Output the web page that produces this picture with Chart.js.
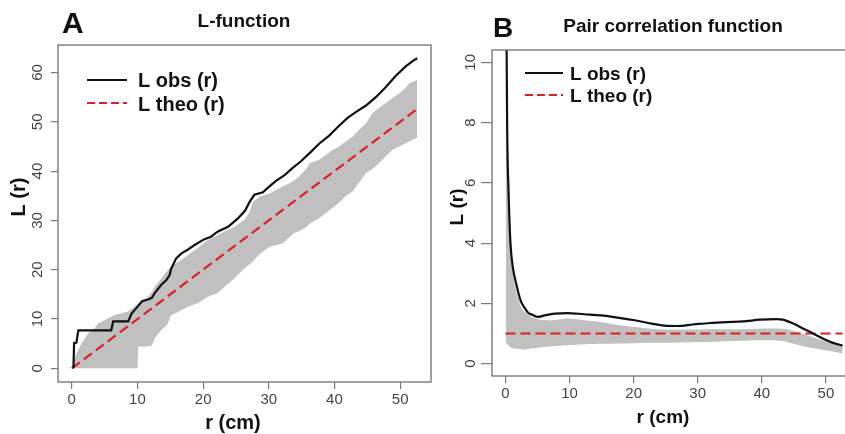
<!DOCTYPE html>
<html>
<head>
<meta charset="utf-8">
<title>L-function and pair correlation function</title>
<script src="https://cdn.jsdelivr.net/npm/chart.js@4.4.1/dist/chart.umd.min.js"></script>
<style>
  html, body { margin: 0; padding: 0; background: #fff; overflow: hidden; }
  #wrap { position: relative; width: 845px; height: 434px; overflow: hidden; }
  #chartA { position: absolute; left: 0; top: 0; }
  #chartB { position: absolute; left: 436px; top: 0; }
</style>
</head>
<body>
<div id="wrap">
  <canvas id="chartA" width="436" height="434"></canvas>
  <canvas id="chartB" width="420" height="434"></canvas>
</div>
<script>
// Tick labels
const xTicks = [0, 10, 20, 30, 40, 50];
const yTicksA = [0, 10, 20, 30, 40, 50, 60];
const yTicksB = [0, 2, 4, 6, 8, 10];

// Panel A - L-function: observed (step-like) curve
const rObsA = [0.25, 0.35, 0.7, 1.0, 6.0, 6.3, 8.6, 9.1, 9.9, 10.7, 11.5, 12.2, 12.6, 13.6, 14.4, 14.9, 15.1, 15.9, 16.7, 17.7,
  18.7, 20.2, 21.2, 22.2, 23.8, 25.3, 26.4, 27.1, 27.8, 29.1, 30.1, 31.1, 32.4, 33.6, 34.9, 36.4, 37.7, 39.2, 40.7, 42.0,
  43.3, 44.8, 46.3, 47.8, 49.3, 50.9, 52.0, 52.6];
const lObsA = [0, 5.1, 5.2, 7.7, 7.7, 9.5, 9.5, 11.1, 12.3, 13.6, 13.9, 14.3, 15.2, 16.9, 17.9, 18.9, 20.1, 22.3, 23.3, 24.1,
  25.0, 26.2, 26.7, 27.7, 28.7, 30.4, 32.0, 33.8, 35.2, 35.7, 36.9, 38.0, 39.2, 40.6, 42.0, 43.9, 45.6, 47.2, 49.2, 50.8,
  52.0, 53.3, 55.0, 57.0, 59.3, 61.3, 62.4, 62.9];

// Panel A - simulation envelope
const rEnvA = [0, 0.5, 1.5, 2.5, 3.5, 4.0, 6.5, 8.6, 10.0, 10.1, 11.6, 12.2, 12.6, 13.4, 14.6, 15.1, 15.9, 16.7, 17.7, 18.7,
  19.2, 20.7, 22.2, 23.3, 24.8, 26.3, 27.0, 27.6, 28.7, 30.2, 32.1, 33.8, 34.6, 35.8, 36.2, 37.7, 39.7, 40.7, 41.7, 42.8,
  43.3, 44.8, 45.8, 46.8, 47.8, 48.8, 49.9, 50.9, 51.4, 52.6];
const loEnvA = [0, 0, 0, 0, 0, 0, 0, 0, 0, 4.4, 4.4, 4.6, 6.0, 7.4, 9.0, 10.8, 11.2, 11.8, 12.5, 13.0,
  13.2, 14.5, 15.2, 16.6, 18.3, 20.3, 21.0, 21.7, 23.3, 24.7, 25.3, 27.4, 27.8, 28.7, 29.3, 30.5, 32.5, 33.6, 34.9, 35.9,
  36.9, 39.6, 40.5, 41.6, 43.0, 44.3, 45.0, 45.7, 46.0, 46.8];
const hiEnvA = [0, 2.4, 5.1, 7.1, 8.1, 9.1, 10.8, 11.5, 13.0, 13.2, 14.5, 15.5, 16.5, 17.8, 19.9, 20.5, 21.3, 22.0, 23.0, 24.0,
  24.4, 26.0, 27.0, 27.8, 28.7, 30.2, 31.5, 33.8, 34.9, 35.5, 36.9, 38.0, 38.9, 40.6, 41.6, 42.3, 44.3, 45.0, 46.0, 47.0,
  47.8, 49.7, 51.8, 52.8, 53.8, 54.8, 55.8, 57.0, 57.8, 58.5];

// Panel A - theoretical line L(r) = r
const rTheoA = [0, 52.6];
const lTheoA = [0, 52.6];

// Panel B - pair correlation function: observed curve
const rObsB = [0.08, 0.26, 0.5, 0.78, 1.15, 1.67, 2.35, 3.0, 3.5, 4.2, 5.05, 6.1, 7.7, 9.7, 12.3, 14.9, 17.5, 20.2, 22.8, 24.8,
  26.7, 29.3, 31.9, 34.5, 37.1, 39.7, 42.3, 43.3, 44.9, 46.5, 48.0, 49.6, 51.1, 52.6];
const gObsB = [14, 8.0, 5.6, 4.0, 3.2, 2.66, 2.1, 1.85, 1.7, 1.62, 1.55, 1.6, 1.66, 1.68, 1.64, 1.6, 1.53, 1.44, 1.33, 1.26,
  1.25, 1.3, 1.35, 1.38, 1.4, 1.46, 1.48, 1.46, 1.33, 1.16, 1.0, 0.83, 0.69, 0.6];

// Panel B - simulation envelope
const rEnvB = [0.05, 0.3, 0.6, 1.0, 1.5, 2.3, 3.0, 4.0, 5.0, 7.1, 9.7, 12.3, 14.9, 17.5, 20.2, 22.8, 24.8, 27.4, 30.0, 32.7,
  35.3, 38.0, 40.5, 43.3, 44.9, 46.5, 48.0, 49.6, 51.1, 52.6];
const hiEnvB = [12, 7.5, 4.8, 3.3, 2.6, 1.95, 1.72, 1.56, 1.48, 1.44, 1.5, 1.44, 1.38, 1.28, 1.22, 1.16, 1.13, 1.13, 1.13, 1.15,
  1.14, 1.15, 1.17, 1.16, 1.09, 0.98, 0.88, 0.77, 0.71, 0.64];
const loEnvB = [0.72, 0.65, 0.58, 0.52, 0.5, 0.48, 0.47, 0.5, 0.53, 0.58, 0.61, 0.64, 0.66, 0.67, 0.68, 0.69, 0.69, 0.7, 0.72, 0.73,
  0.75, 0.77, 0.78, 0.75, 0.66, 0.58, 0.52, 0.45, 0.4, 0.34];

// Panel B - theoretical value g(r) = 1
const rTheoB = [0, 52.6];
const gTheoB = [1, 1];

const FONT = "'Liberation Sans', Arial, Helvetica, sans-serif";
const RED = '#dc2026';
const GREY = '#c0c0c0';
Chart.defaults.font.family = FONT;

function pts(xs, ys) {
  return xs.map((x, i) => ({ x: x, y: ys[i] }));
}

// force ticks to the given values (R style pretty ticks)
function fixTicks(values) {
  return scale => { scale.ticks = values.map(v => ({ value: v })); };
}

// R look: box, rotated y tick labels, axis titles, panel title, letter, legend
function rStyle(cfg) {
  return {
    id: 'rStyle',
    afterDraw(chart) {
      const ctx = chart.ctx;
      const a = chart.chartArea;
      const ys = chart.scales.y;
      ctx.save();

      ctx.strokeStyle = '#7a7a7a';
      ctx.lineWidth = 1.4;
      ctx.strokeRect(a.left, a.top, a.right - a.left, a.bottom - a.top);

      ctx.fillStyle = '#444';
      ctx.font = '15px ' + FONT;
      ctx.textAlign = 'center';
      ctx.textBaseline = 'middle';
      ys.ticks.forEach(t => {
        ctx.save();
        ctx.translate(cfg.yLabelX, ys.getPixelForValue(t.value));
        ctx.rotate(-Math.PI / 2);
        ctx.fillText(String(t.value), 0, 0);
        ctx.restore();
      });

      // axis titles
      ctx.fillStyle = '#111';
      ctx.font = 'bold ' + cfg.axisSize + 'px ' + FONT;
      ctx.fillText('r (cm)', cfg.xTitleX, cfg.xTitleY);
      ctx.save();
      ctx.translate(cfg.yTitleX, cfg.yTitleY);
      ctx.rotate(-Math.PI / 2);
      ctx.fillText('L (r)', 0, 0);
      ctx.restore();

      // panel title and letter
      ctx.textBaseline = 'alphabetic';
      ctx.font = 'bold 19px ' + FONT;
      ctx.fillText(cfg.title, cfg.titleX, cfg.titleY);
      ctx.textAlign = 'left';
      ctx.font = 'bold ' + cfg.letterSize + 'px ' + FONT;
      ctx.fillText(cfg.letter, cfg.letterX, cfg.letterY);

      // legend (first two datasets)
      ctx.font = 'bold ' + cfg.legendSize + 'px ' + FONT;
      cfg.legend.forEach((item, i) => {
        const ds = chart.data.datasets[i];
        ctx.strokeStyle = ds.borderColor;
        ctx.lineWidth = 2;
        ctx.setLineDash(item.dash);
        ctx.beginPath();
        ctx.moveTo(cfg.legX1, item.y);
        ctx.lineTo(cfg.legX2, item.y);
        ctx.stroke();
        ctx.setLineDash([]);
        ctx.fillStyle = '#111';
        ctx.fillText(ds.label, cfg.legTextX, item.base);
      });
      ctx.restore();
    }
  };
}

function makeChart(id, d, ax, deco) {
  const ctx = document.getElementById(id).getContext('2d');
  return new Chart(ctx, {
    type: 'line',
    data: {
      datasets: [
        { label: 'L obs (r)', data: pts(d.rObs, d.obs), borderColor: '#111', borderWidth: 2.2,
          pointRadius: 0, fill: false, cubicInterpolationMode: d.smooth ? 'monotone' : 'default', tension: 0 },
        { label: 'L theo (r)', data: pts(d.rTheo, d.theo), borderColor: RED, borderWidth: 2.2,
          borderDash: [10, 5], pointRadius: 0, fill: false },
        { label: 'upper', data: pts(d.rEnv, d.hi), borderColor: 'rgba(0,0,0,0)', borderWidth: 0,
          backgroundColor: GREY, pointRadius: 0, fill: '+1', cubicInterpolationMode: d.smooth ? 'monotone' : 'default' },
        { label: 'lower', data: pts(d.rEnv, d.lo), borderColor: 'rgba(0,0,0,0)', borderWidth: 0,
          pointRadius: 0, fill: false, cubicInterpolationMode: d.smooth ? 'monotone' : 'default' }
      ]
    },
    options: {
      responsive: false,
      animation: false,
      layout: { padding: { left: 0, right: ax.padRight, top: ax.padTop, bottom: 0 } },
      plugins: { legend: { display: false }, tooltip: { enabled: false } },
      scales: {
        x: {
          type: 'linear', min: -2.1, max: 54.7,
          afterBuildTicks: fixTicks(xTicks),
          afterFit: s => { s.height = ax.xHeight; },
          grid: { drawOnChartArea: false, drawTicks: true, tickLength: 7, color: '#7a7a7a', lineWidth: 1.2 },
          border: { display: false },
          ticks: { color: '#444', font: { size: 15 }, padding: 2, maxRotation: 0, autoSkip: false }
        },
        y: {
          type: 'linear', min: ax.yMin, max: ax.yMax,
          afterBuildTicks: fixTicks(ax.yTicks),
          afterFit: s => { s.width = ax.yWidth; },
          grid: { drawOnChartArea: false, drawTicks: true, tickLength: ax.yTickLen, color: '#7a7a7a', lineWidth: 1.2 },
          border: { display: false },
          ticks: { display: false }
        }
      }
    },
    plugins: [rStyle(deco)]
  });
}

// Panel A
makeChart('chartA',
  { rObs: rObsA, obs: lObsA, rEnv: rEnvA, lo: loEnvA, hi: hiEnvA, rTheo: rTheoA, theo: lTheoA, smooth: false },
  { padTop: 45, padRight: 5, xHeight: 52, yWidth: 58, yMin: -2.78, yMax: 65.58, yTicks: yTicksA, yTickLen: 7 },
  { yLabelX: 38, axisSize: 20, xTitleX: 233, xTitleY: 423, yTitleX: 19, yTitleY: 197,
    title: 'L-function', titleX: 244, titleY: 27, letter: 'A', letterX: 62, letterY: 33, letterSize: 30,
    legendSize: 20, legX1: 87, legX2: 127, legTextX: 138,
    legend: [{ y: 80, base: 87, dash: [] }, { y: 103, base: 111, dash: [8, 4] }] });

// Panel B
makeChart('chartB',
  { rObs: rObsB, obs: gObsB, rEnv: rEnvB, lo: loEnvB, hi: hiEnvB, rTheo: rTheoB, theo: gTheoB, smooth: true },
  { padTop: 50, padRight: 0, xHeight: 58, yWidth: 56, yMin: -0.41, yMax: 10.41, yTicks: yTicksB, yTickLen: 11 },
  { yLabelX: 35, axisSize: 19, xTitleX: 227, xTitleY: 418, yTitleX: 22, yTitleY: 207,
    title: 'Pair correlation function', titleX: 237, titleY: 32, letter: 'B', letterX: 57, letterY: 37, letterSize: 28,
    legendSize: 19, legX1: 89, legX2: 127, legTextX: 134,
    legend: [{ y: 73, base: 80, dash: [] }, { y: 95, base: 102, dash: [8, 4] }] });
</script>
</body>
</html>
